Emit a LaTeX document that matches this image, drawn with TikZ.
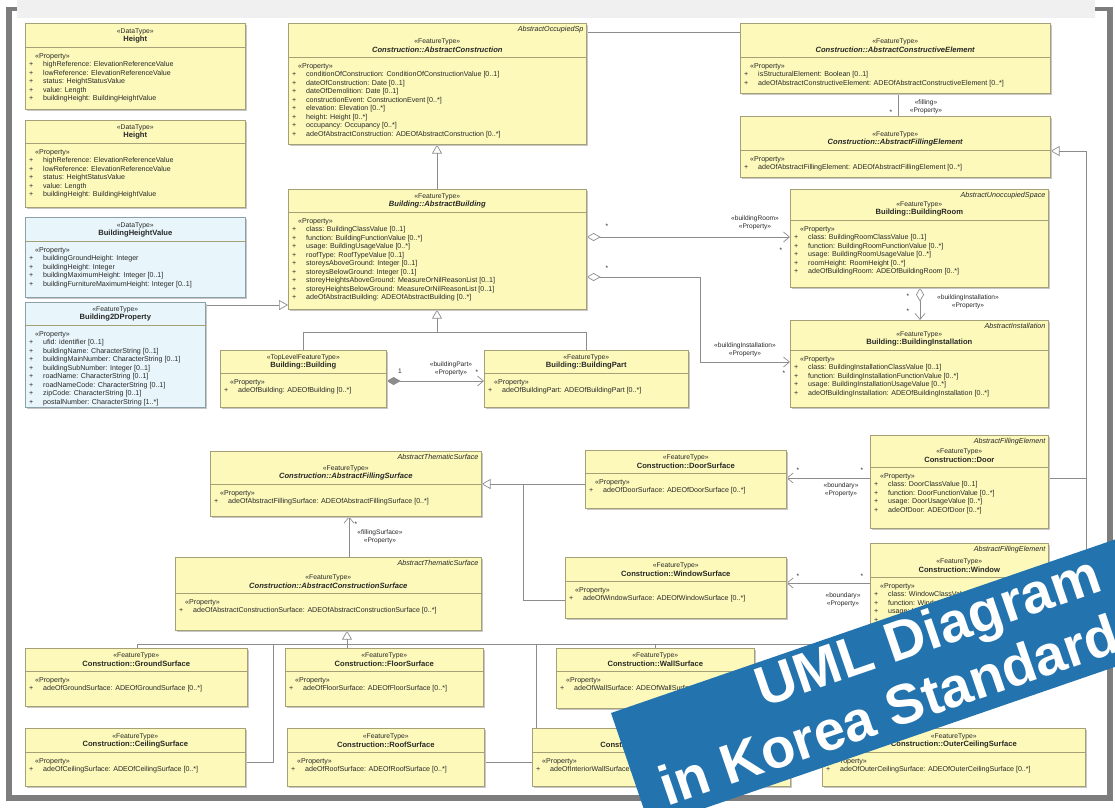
\documentclass[tikz,border=0pt]{standalone}
\usepackage{fontspec}
\setmainfont{Liberation Sans}
\newfontfamily\bannerfont{Liberation Sans}
\usetikzlibrary{arrows.meta,calc,shadows}
\definecolor{boxfill}{RGB}{252,249,186}
\definecolor{boxline}{RGB}{165,160,120}
\definecolor{bluefill}{RGB}{232,245,250}
\definecolor{blueline}{RGB}{140,160,170}
\definecolor{connc}{RGB}{140,140,140}
\definecolor{framec}{RGB}{125,125,125}
\definecolor{bandc}{RGB}{240,240,240}
\definecolor{bannerc}{RGB}{35,115,175}
\definecolor{txtc}{RGB}{40,40,40}
\pgfdeclarelayer{back}
\pgfdeclarelayer{bg}
\pgfsetlayers{back,bg,main}
\newcommand{\pplus}{\makebox[14pt][l]{+}}
% [style]{id}{x,y}{w}{h}{sep}{stereotype}{name}{properties}
\newcommand{\umlbox}[9][classbox]{%
  \node[#1, minimum width=#4pt, minimum height=#5pt, anchor=north west] (#2) at (#3) {};
  \node[stereo] (#2-s) at ($(#2.north)+(0,#6-15)$) {«#7»};
  \node[cname] (#2-n) at ($(#2.north)+(0,#6-7.5)$) {#8};
  \draw[sepl] ($(#2.north west)+(0,#6)$) -- ($(#2.north east)+(0,#6)$);
  \node[props] (#2-p) at ($(#2.north west)+(4,#6+6)$) {\hspace*{6pt}«Property»\\#9};
}
\newcommand{\abslabel}[2]{\node[alab, anchor=north east] (#1-l) at ($(#1.north east)+(-3,3)$) {#2};}
\begin{document}
\begin{tikzpicture}[x=1pt,y=-1pt,
  classbox/.style={draw=boxline, fill=boxfill, line width=0.6pt, inner sep=0pt,
    general shadow={fill=black!22, shadow xshift=1.6pt, shadow yshift=-1.6pt}},
  bluebox/.style={classbox, draw=blueline, fill=bluefill},
  stereo/.style={font=\fontsize{6.8}{8}\selectfont, inner sep=0pt, text=txtc},
  cname/.style={font=\fontsize{7.6}{8.5}\selectfont\bfseries, inner sep=0pt, text=txtc},
  props/.style={font=\fontsize{7.1}{8.5}\selectfont, inner sep=0pt, align=left, anchor=north west, text=txtc},
  alab/.style={font=\fontsize{7.2}{8}\selectfont\itshape, inner sep=0pt, text=txtc},
  sepl/.style={draw=boxline, line width=0.5pt},
  conn/.style={draw=connc, line width=0.7pt},
  gen/.style={conn, -{Triangle[open, length=9pt, width=10pt]}},
  nav/.style={conn, -{Straight Barb[length=6pt, width=10pt]}},
  agg/.style={conn, {Diamond[open, length=14pt, width=8pt]}-{Straight Barb[length=6pt, width=10pt]}},
  comp/.style={conn, {Diamond[length=14pt, width=8pt]}-{Straight Barb[length=6pt, width=10pt]}},
  lab/.style={font=\fontsize{6.6}{7.6}\selectfont, inner sep=0pt, text=txtc, align=center},
  bantext/.style={font=\bannerfont\bfseries\fontsize{56}{60}\selectfont, text=white, inner sep=0pt},
]
\useasboundingbox (0,0) rectangle (1115,807);
% page and frame
\begin{pgfonlayer}{back}
\fill[white] (0,0) rectangle (1115,807);
\fill[bandc] (17,0) rectangle (1095,18);
\fill[framec] (6,7) rectangle (12,801);
\fill[framec] (6,7) rectangle (17,11);
\fill[framec] (1107,7) rectangle (1113,801);
\fill[framec] (1095,7) rectangle (1113,11);
\fill[framec] (6,795) rectangle (1113,801);
\end{pgfonlayer}

% ---- classes ----
\umlbox{h1}{25,23}{220}{86}{24}{DataType}{Height}{%
\pplus highReference: ElevationReferenceValue\\
\pplus lowReference: ElevationReferenceValue\\
\pplus status: HeightStatusValue\\
\pplus value: Length\\
\pplus buildingHeight: BuildingHeightValue}
\umlbox{h2}{25,120}{220}{87}{23}{DataType}{Height}{%
\pplus highReference: ElevationReferenceValue\\
\pplus lowReference: ElevationReferenceValue\\
\pplus status: HeightStatusValue\\
\pplus value: Length\\
\pplus buildingHeight: BuildingHeightValue}
\umlbox[bluebox]{bhv}{25,217}{220}{80}{24}{DataType}{BuildingHeightValue}{%
\pplus buildingGroundHeight: Integer\\
\pplus buildingHeight: Integer\\
\pplus buildingMaximumHeight: Integer [0..1]\\
\pplus buildingFurnitureMaximumHeight: Integer [0..1]}
\umlbox[bluebox]{b2d}{25,302}{180}{105}{23}{FeatureType}{Building2DProperty}{%
\pplus ufid: identifier [0..1]\\
\pplus buildingName: CharacterString [0..1]\\
\pplus buildingMainNumber: CharacterString [0..1]\\
\pplus buildingSubNumber: Integer [0..1]\\
\pplus roadName: CharacterString [0..1]\\
\pplus roadNameCode: CharacterString [0..1]\\
\pplus zipCode: CharacterString [0..1]\\
\pplus postalNumber: CharacterString [1..*]}
\umlbox{acon}{288,23}{298}{121}{34}{FeatureType}{\textit{Construction::AbstractConstruction}}{%
\pplus conditionOfConstruction: ConditionOfConstructionValue [0..1]\\
\pplus dateOfConstruction: Date [0..1]\\
\pplus dateOfDemolition: Date [0..1]\\
\pplus constructionEvent: ConstructionEvent [0..*]\\
\pplus elevation: Elevation [0..*]\\
\pplus height: Height [0..*]\\
\pplus occupancy: Occupancy [0..*]\\
\pplus adeOfAbstractConstruction: ADEOfAbstractConstruction [0..*]}
\abslabel{acon}{AbstractOccupiedSp}
\umlbox{abld}{288,189}{298}{120}{23}{FeatureType}{\textit{Building::AbstractBuilding}}{%
\pplus class: BuildingClassValue [0..1]\\
\pplus function: BuildingFunctionValue [0..*]\\
\pplus usage: BuildingUsageValue [0..*]\\
\pplus roofType: RoofTypeValue [0..1]\\
\pplus storeysAboveGround: Integer [0..1]\\
\pplus storeysBelowGround: Integer [0..1]\\
\pplus storeyHeightsAboveGround: MeasureOrNilReasonList [0..1]\\
\pplus storeyHeightsBelowGround: MeasureOrNilReasonList [0..1]\\
\pplus adeOfAbstractBuilding: ADEOfAbstractBuilding [0..*]}
\umlbox{bldg}{220,350}{166}{57}{23}{TopLevelFeatureType}{Building::Building}{%
\pplus adeOfBuilding: ADEOfBuilding [0..*]}
\umlbox{bpart}{484,350}{204}{57}{23}{FeatureType}{Building::BuildingPart}{%
\pplus adeOfBuildingPart: ADEOfBuildingPart [0..*]}
\umlbox{acel}{740,23}{310}{70}{34}{FeatureType}{\textit{Construction::AbstractConstructiveElement}}{%
\pplus isStructuralElement: Boolean [0..1]\\
\pplus adeOfAbstractConstructiveElement: ADEOfAbstractConstructiveElement [0..*]}
\umlbox{afel}{740,116}{310}{61}{34}{FeatureType}{\textit{Construction::AbstractFillingElement}}{%
\pplus adeOfAbstractFillingElement: ADEOfAbstractFillingElement [0..*]}
\umlbox{broom}{790,189}{258}{98}{31}{FeatureType}{Building::BuildingRoom}{%
\pplus class: BuildingRoomClassValue [0..1]\\
\pplus function: BuildingRoomFunctionValue [0..*]\\
\pplus usage: BuildingRoomUsageValue [0..*]\\
\pplus roomHeight: RoomHeight [0..*]\\
\pplus adeOfBuildingRoom: ADEOfBuildingRoom [0..*]}
\abslabel{broom}{AbstractUnoccupiedSpace}
\umlbox{binst}{790,320}{258}{87}{30}{FeatureType}{Building::BuildingInstallation}{%
\pplus class: BuildingInstallationClassValue [0..1]\\
\pplus function: BuildingInstallationFunctionValue [0..*]\\
\pplus usage: BuildingInstallationUsageValue [0..*]\\
\pplus adeOfBuildingInstallation: ADEOfBuildingInstallation [0..*]}
\abslabel{binst}{AbstractInstallation}
\umlbox{afsurf}{210,451}{271}{65}{33}{FeatureType}{\textit{Construction::AbstractFillingSurface}}{%
\pplus adeOfAbstractFillingSurface: ADEOfAbstractFillingSurface [0..*]}
\abslabel{afsurf}{AbstractThematicSurface}
\umlbox{acsurf}{175,557}{306}{73}{36}{FeatureType}{\textit{Construction::AbstractConstructionSurface}}{%
\pplus adeOfAbstractConstructionSurface: ADEOfAbstractConstructionSurface [0..*]}
\abslabel{acsurf}{AbstractThematicSurface}
\umlbox{dsurf}{585,450}{201}{58}{23}{FeatureType}{Construction::DoorSurface}{%
\pplus adeOfDoorSurface: ADEOfDoorSurface [0..*]}
\umlbox{door}{870,435}{178}{93}{32}{FeatureType}{Construction::Door}{%
\pplus class: DoorClassValue [0..1]\\
\pplus function: DoorFunctionValue [0..*]\\
\pplus usage: DoorUsageValue [0..*]\\
\pplus adeOfDoor: ADEOfDoor [0..*]}
\abslabel{door}{AbstractFillingElement}
\umlbox{wsurf}{565,557}{221}{61}{24}{FeatureType}{Construction::WindowSurface}{%
\pplus adeOfWindowSurface: ADEOfWindowSurface [0..*]}
\umlbox{window}{870,543}{178}{95}{34}{FeatureType}{Construction::Window}{%
\pplus class: WindowClassValue [0..1]\\
\pplus function: WindowFunctionValue [0..*]\\
\pplus usage: WindowUsageValue [0..*]\\
\pplus adeOfWindow: ADEOfWindow [0..*]}
\abslabel{window}{AbstractFillingElement}
\umlbox{ground}{25,648}{222}{58}{23}{FeatureType}{Construction::GroundSurface}{%
\pplus adeOfGroundSurface: ADEOfGroundSurface [0..*]}
\umlbox{floor}{285,648}{198}{58}{23}{FeatureType}{Construction::FloorSurface}{%
\pplus adeOfFloorSurface: ADEOfFloorSurface [0..*]}
\umlbox{wall}{556,648}{198}{60}{23}{FeatureType}{Construction::WallSurface}{%
\pplus adeOfWallSurface: ADEOfWallSurface [0..*]}
\umlbox{ofloor}{802,652}{186}{54}{23}{FeatureType}{Construction::OuterFloorSurface}{%
\pplus adeOfOuterFloorSurface: ADEOfOuterFloorSurface [0..*]}
\umlbox{ceiling}{25,728}{220}{58}{24}{FeatureType}{Construction::CeilingSurface}{%
\pplus adeOfCeilingSurface: ADEOfCeilingSurface [0..*]}
\umlbox{roof}{287,728}{197}{58}{24}{FeatureType}{Construction::RoofSurface}{%
\pplus adeOfRoofSurface: ADEOfRoofSurface [0..*]}
\umlbox{iwall}{532,728}{258}{58}{24}{FeatureType}{Construction::InteriorWallSurface}{%
\pplus adeOfInteriorWallSurface: ADEOfInteriorWallSurface [0..*]}
\umlbox{oceil}{822,728}{263}{58}{24}{FeatureType}{Construction::OuterCeilingSurface}{%
\pplus adeOfOuterCeilingSurface: ADEOfOuterCeilingSurface [0..*]}

% ---- connectors ----
\coordinate (ce) at (0,32);
\coordinate (gx) at (437,0);
\coordinate (bt) at (437,332);
\coordinate (g2) at (0,305);
\coordinate (cp) at (0,381);
\coordinate (ar) at (0,237);
\coordinate (ai) at (700,277);
\coordinate (ai2) at (700,362);
\coordinate (rx) at (920,0);
\coordinate (fx) at (898,0);
\coordinate (vx1) at (1086,151);
\coordinate (vx2) at (1086,478);
\coordinate (vx3) at (1086,583);
\coordinate (dy) at (0,478);
\coordinate (wy) at (0,583);
\coordinate (fy) at (523,484);
\coordinate (fj2) at (523,600);
\coordinate (sx) at (349,0);
\coordinate (bus) at (347,644);
\coordinate (busL) at (137,644);
\coordinate (busR) at (811,644);
\coordinate (c1) at (273,762);
\coordinate (c2) at (536,762);
\coordinate (c3) at (655,644);
\begin{pgfonlayer}{bg}
\draw[conn] (acon.east |- ce) -- (acel.west |- ce);
\draw[conn] (acel.south -| fx) -- (afel.north -| fx);
\draw[gen] (abld.north -| gx) -- (acon.south -| gx);
\draw[conn] (bldg.north) |- (bt);
\draw[conn] (bpart.north) |- (bt);
\draw[gen] (bt) -- (abld.south -| bt);
\draw[gen] (b2d.east |- g2) -- (abld.west |- g2);
\draw[comp] (bldg.east |- cp) -- (bpart.west |- cp);
\draw[agg] (abld.east |- ar) -- (broom.west |- ar);
\draw[agg] (abld.east |- ai) -- (ai) -- (ai2) -- (binst.west |- ai2);
\draw[agg] (broom.south -| rx) -- (binst.north -| rx);
\draw[conn] (door.east |- vx2) -- (vx2);
\draw[conn] (window.east |- vx3) -- (vx3) -- (vx2);
\draw[gen] (vx2) -- (vx1) -- (afel.east |- vx1);
\draw[nav] (door.west |- dy) -- (dsurf.east |- dy);
\draw[nav] (window.west |- wy) -- (wsurf.east |- wy);
\draw[conn] (wsurf.west |- fj2) -- (fj2) -- (fy);
\draw[gen] (dsurf.west |- fy) -- (afsurf.east |- fy);
\draw[nav] (acsurf.north -| sx) -- (afsurf.south -| sx);
\draw[gen] (bus) -- (acsurf.south -| bus);
\draw[conn] (busL) -- (busR);
\draw[conn] (busL) -- (ground.north -| busL);
\draw[conn] (bus) -- (floor.north -| bus);
\draw[conn] (c1 |- bus) -- (c1) -- (ceiling.east |- c1);
\draw[conn] (c2 |- bus) -- (c2) -- (roof.east |- c2);
\draw[conn] (c3) -- (wall.north -| c3);
\draw[conn] (busR) -- (ofloor.north -| busR);
\end{pgfonlayer}

% ---- connector labels ----
\node[lab] (l1) at (400,371) {1};
\node[lab] (l2) at (451,369) {«buildingPart»\\«Property»};
\node[lab] (l3) at (477,372) {*};
\node[lab] (l4) at (607,226) {*};
\node[lab] (l5) at (755,223) {«buildingRoom»\\«Property»};
\node[lab] (l6) at (781,250) {*};
\node[lab] (l7) at (607,268) {*};
\node[lab] (l8) at (745,350) {«buildingInstallation»\\«Property»};
\node[lab] (l9) at (784,373) {*};
\node[lab] (l10) at (908,296) {*};
\node[lab] (l11) at (908,311) {*};
\node[lab] (l12) at (968,302) {«buildingInstallation»\\«Property»};
\node[lab] (l13) at (891,112) {*};
\node[lab] (l14) at (926,107) {«filling»\\«Property»};
\node[lab] (l15) at (798,470) {*};
\node[lab] (l16) at (862,470) {*};
\node[lab] (l17) at (841,490) {«boundary»\\«Property»};
\node[lab] (l18) at (798,576) {*};
\node[lab] (l19) at (862,576) {*};
\node[lab] (l20) at (843,600) {«boundary»\\«Property»};
\node[lab] (l21) at (356,524) {*};
\node[lab] (l22) at (380,537) {«fillingSurface»\\«Property»};

% ---- banner ----
\begin{scope}
\clip (0,0) rectangle (1115,807);
\fill[bannerc] (611,713) -- (1273,485) -- (1312,599) -- (650,827) -- cycle;
\node[bantext, anchor=base west, rotate=19] (ban1) at (763,708) {UML Diagram};
\node[bantext, anchor=base west, rotate=19] (ban2) at (667,807) {in Korea Standard};
\end{scope}
\end{tikzpicture}
\end{document}
